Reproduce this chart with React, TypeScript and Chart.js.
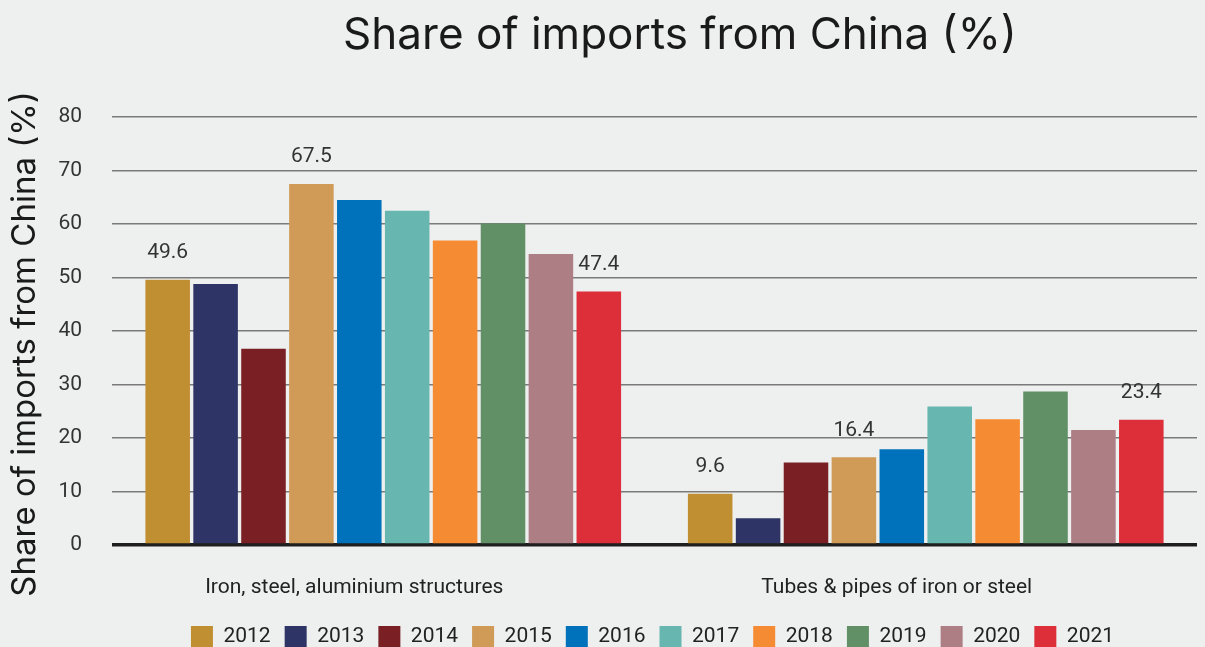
import React, { useEffect, useRef } from "react";
import { Chart, registerables } from "chart.js";

Chart.register(...registerables);

const categories = ["Iron, steel, aluminium structures", "Tubes & pipes of iron or steel"];
const years = ["2012", "2013", "2014", "2015", "2016", "2017", "2018", "2019", "2020", "2021"];
const v2012 = [49.6, 9.6];
const v2013 = [48.8, 5.0];
const v2014 = [36.7, 15.4];
const v2015 = [67.5, 16.4];
const v2016 = [64.5, 17.9];
const v2017 = [62.5, 25.9];
const v2018 = [56.9, 23.5];
const v2019 = [60.1, 28.7];
const v2020 = [54.4, 21.5];
const v2021 = [47.4, 23.4];
const seriesValues = [v2012, v2013, v2014, v2015, v2016, v2017, v2018, v2019, v2020, v2021];
const colors = ["#c08f32", "#2e3566", "#7a1f24", "#d09b57", "#0072bb", "#67b7b0", "#f58b33", "#619066", "#ad7e84", "#dc2f3a"];
const labeledYears = ["2012", "2015", "2021"];
const yTicks = [0, 10, 20, 30, 40, 50, 60, 70, 80];
const chartTitle = "Share of imports from China (%)";
const yAxisTitle = "Share of imports from China (%)";

const BG = "#eef0ef";
const NARROW = "Roboto, 'Liberation Sans', sans-serif";
const MAIN = "Inter, Roboto, sans-serif";

export default function App() {
  const ref = useRef<HTMLCanvasElement | null>(null);

  useEffect(() => {
    document.body.style.margin = "0";
    document.body.style.background = BG;
    const canvas = ref.current;
    if (!canvas) return;

    const valueLabels = {
      id: "valueLabels",
      afterDatasetsDraw(chart: any) {
        const ctx = chart.ctx;
        ctx.save();
        ctx.font = `21px ${NARROW}`;
        ctx.fillStyle = "#333333";
        ctx.textAlign = "center";
        ctx.textBaseline = "middle";
        chart.data.datasets.forEach((ds: any, i: number) => {
          if (!labeledYears.includes(ds.label)) return;
          const meta = chart.getDatasetMeta(i);
          meta.data.forEach((bar: any, j: number) => {
            ctx.fillText(ds.data[j].toFixed(1), bar.x, bar.y - 27);
          });
        });
        ctx.restore();
      },
    };

    const titles = {
      id: "customTitles",
      afterDraw(chart: any) {
        const ctx = chart.ctx;
        ctx.save();
        ctx.fillStyle = "#1a1a1a";
        ctx.textAlign = "center";
        ctx.textBaseline = "middle";
        ctx.font = `44px ${MAIN}`;
        ctx.fillText(chartTitle, 680, 36);
        ctx.translate(25, 344);
        ctx.rotate(-Math.PI / 2);
        ctx.font = `33px ${MAIN}`;
        ctx.fillText(yAxisTitle, 0, 0);
        ctx.restore();
      },
    };

    const legendTweak = {
      id: "legendTweak",
      beforeLayout(chart: any) {
        const lg = chart.legend;
        if (lg && !lg.__patched) {
          const orig = lg.fit.bind(lg);
          lg.fit = function () {
            orig();
            this.height = 35;
          };
          lg.__patched = true;
        }
      },
      afterLayout(chart: any) {
        const lg = chart.legend;
        if (lg) {
          lg.left += 54;
          lg.right += 54;
        }
      },
    };

    const chart = new Chart(canvas, {
      type: "bar",
      data: {
        labels: categories,
        datasets: years.map((y, i) => ({
          label: y,
          data: seriesValues[i],
          backgroundColor: colors[i],
          borderWidth: 0,
          categoryPercentage: 0.883,
          barPercentage: 0.93,
        })),
      },
      options: {
        animation: false,
        responsive: false,
        maintainAspectRatio: false,
        layout: { padding: { top: 117, right: 8, left: 0, bottom: 0 } },
        plugins: {
          title: { display: false },
          tooltip: { enabled: false },
          legend: {
            position: "bottom",
            labels: {
              boxWidth: 22,
              boxHeight: 22,
              padding: 14,
              color: "#222222",
              font: { family: NARROW, size: 21 },
            },
          },
        },
        scales: {
          x: {
            grid: { display: false, drawTicks: false },
            border: { display: false },
            afterFit(axis: any) {
              axis.height = 67;
            },
            ticks: {
              color: "#222222",
              font: { family: NARROW, size: 21 },
              padding: 30,
              labelOffset: -29,
            },
          },
          y: {
            min: 0,
            max: 80,
            afterBuildTicks(axis: any) {
              axis.ticks = yTicks.map((v) => ({ value: v }));
            },
            afterFit(axis: any) {
              axis.width = 112;
            },
            border: { display: false },
            grid: {
              drawTicks: false,
              color: (c: any) => (c.tick && c.tick.value === 0 ? "#1e1e1e" : "#7a7a7a"),
              lineWidth: (c: any) => (c.tick && c.tick.value === 0 ? 3.5 : 1.5),
            },
            ticks: {
              color: "#333333",
              font: { family: NARROW, size: 21 },
              padding: 30,
            },
            title: { display: false },
          },
        },
      },
      plugins: [valueLabels, titles, legendTweak],
    });

    return () => chart.destroy();
  }, []);

  return (
    <div style={{ width: 1205, height: 647, background: BG }}>
      <canvas ref={ref} width={1205} height={647} style={{ display: "block" }} />
    </div>
  );
}
